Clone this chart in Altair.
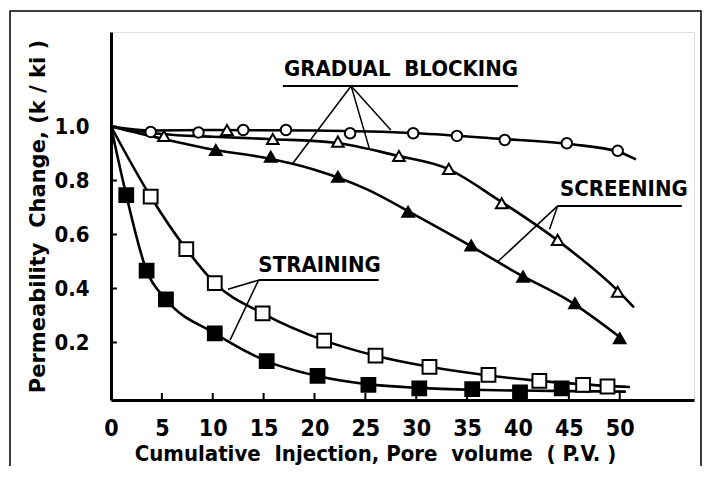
import altair as alt
import pandas as pd

# ---- marker data ----
circle_x = [3.9, 8.6, 13.0, 17.2, 23.5, 29.7, 34.0, 38.7, 44.8, 49.8]
circle_y = [0.98, 0.978, 0.987, 0.987, 0.975, 0.975, 0.965, 0.95, 0.938, 0.91]

otri_x = [5.2, 11.4, 15.9, 22.3, 28.3, 33.2, 38.4, 43.9, 49.8]
otri_y = [0.965, 0.987, 0.954, 0.944, 0.891, 0.843, 0.716, 0.58, 0.388]

ftri_x = [10.3, 15.7, 22.3, 29.2, 35.4, 40.5, 45.6, 50.0]
ftri_y = [0.913, 0.888, 0.814, 0.684, 0.559, 0.444, 0.345, 0.216]

osq_x = [3.9, 7.4, 10.2, 14.9, 20.95, 26.0, 31.3, 37.1, 42.1, 46.4, 48.8]
osq_y = [0.74, 0.546, 0.42, 0.308, 0.207, 0.151, 0.11, 0.08, 0.058, 0.043, 0.037]

fsq_x = [1.5, 3.5, 5.4, 10.2, 15.3, 20.3, 25.3, 30.3, 35.5, 40.2, 44.3]
fsq_y = [0.746, 0.466, 0.36, 0.234, 0.131, 0.076, 0.043, 0.03, 0.027, 0.015, 0.03]

# ---- fitted curves ----
ccurve_x = [0, 4, 10, 20, 30, 38, 45, 50, 51.6]
ccurve_y = [1.0, 0.985, 0.987, 0.985, 0.975, 0.955, 0.935, 0.905, 0.878]

otcurve_x = [0, 5, 10, 16, 22, 28, 33, 38, 44, 50, 51.4]
otcurve_y = [1.0, 0.972, 0.962, 0.953, 0.94, 0.893, 0.845, 0.73, 0.575, 0.385, 0.33]

ftcurve_x = [0, 5, 10, 15, 20, 25, 30, 35, 40, 45, 50]
ftcurve_y = [1.0, 0.955, 0.915, 0.885, 0.84, 0.77, 0.67, 0.565, 0.455, 0.355, 0.22]

oscurve_x = [0, 3.9, 7.4, 10.2, 14.9, 21, 26, 31.3, 37.1, 42, 46.4, 51]
oscurve_y = [1.0, 0.74, 0.546, 0.42, 0.308, 0.207, 0.151, 0.11, 0.078, 0.058, 0.045, 0.035]

fscurve_x = [0, 1.5, 3.5, 5.4, 10.2, 15.3, 20.3, 25.3, 30.3, 35.5, 40, 45, 50.6]
fscurve_y = [1.0, 0.746, 0.466, 0.36, 0.234, 0.131, 0.076, 0.045, 0.032, 0.025, 0.022, 0.02, 0.018]

# ---- annotations ----
labels = ["GRADUAL\u00a0\u00a0BLOCKING", "SCREENING", "STRAINING"]
label_x = [28.5, 50.4, 20.5]
label_y = [1.213, 0.769, 0.487]
uline_x1 = [16.9, 43.9, 14.5]
uline_x2 = [40.0, 56.1, 26.3]
uline_y = [1.15, 0.706, 0.431]
leader_x1 = [23.6, 23.6, 23.6, 43.9, 43.9, 14.5, 14.5]
leader_y1 = [1.15, 1.15, 1.15, 0.706, 0.706, 0.431, 0.431]
leader_x2 = [17.8, 25.4, 27.5, 38.0, 43.1, 11.5, 11.7]
leader_y2 = [0.86, 0.917, 0.987, 0.499, 0.619, 0.397, 0.209]

x_ticks = [0, 5, 10, 15, 20, 25, 30, 35, 40, 45, 50]
y_ticks = [0.2, 0.4, 0.6, 0.8, 1.0]

COND = "'DejaVu Sans Condensed', 'DejaVu Sans', sans-serif"
WIDE = "'DejaVu Sans', sans-serif"

XS = alt.Scale(domain=[0, 57.3], nice=False, zero=False)
YS = alt.Scale(domain=[-0.013, 1.35], nice=False, zero=False)

W, H = 583, 368

X_TITLE = "Cumulative\u00a0\u00a0Injection, Pore\u00a0\u00a0volume\u00a0\u00a0( P.V. )"
Y_TITLE = "Permeability\u00a0\u00a0Change, (k\u00a0/\u00a0ki\u00a0)"


def df(**kw):
    return pd.DataFrame(kw)


x_axis = alt.Axis(values=x_ticks, grid=False, ticks=False, domain=True, domainWidth=3,
                  domainColor="black", labelFont=COND, labelFontSize=23, labelFontWeight="bold",
                  labelColor="black", labelPadding=17, title=X_TITLE,
                  titleFont=COND, titleFontSize=22, titleFontWeight="bold", titleColor="black",
                  titleX=264, titleY=60, titleAlign="center", titleBaseline="alphabetic",
                  labelFlush=False)
y_axis = alt.Axis(values=y_ticks, format=".1f", grid=False, ticks=False, domain=True, domainWidth=3,
                  domainColor="black", labelFont=COND, labelFontSize=22, labelFontWeight="bold",
                  labelColor="black", labelPadding=22, title=Y_TITLE,
                  titleFont=WIDE, titleFontSize=21, titleFontWeight="bold", titleColor="black",
                  titleX=-73, titleY=184, titleAngle=270, titleAlign="center",
                  titleBaseline="middle", labelFlush=False)


def X(f="x"):
    return alt.X(f + ":Q", scale=XS, axis=x_axis, title=X_TITLE)


def Y(f="y"):
    return alt.Y(f + ":Q", scale=YS, axis=y_axis, title=Y_TITLE)


def curve(xs, ys):
    return alt.Chart(df(x=xs, y=ys)).mark_line(
        color="black", strokeWidth=2.6, interpolate="monotone").encode(x=X(), y=Y(), order="x:Q")


def pts(xs, ys, shape, filled, size):
    return alt.Chart(df(x=xs, y=ys)).mark_point(
        shape=shape, filled=True, fill="black" if filled else "white", stroke="black",
        strokeWidth=2, size=size, opacity=1).encode(x=X(), y=Y())


curves = [curve(ccurve_x, ccurve_y), curve(otcurve_x, otcurve_y), curve(ftcurve_x, ftcurve_y),
          curve(oscurve_x, oscurve_y), curve(fscurve_x, fscurve_y)]
markers = [pts(circle_x, circle_y, "circle", False, 110),
           pts(otri_x, otri_y, "triangle-up", False, 135),
           pts(ftri_x, ftri_y, "triangle-up", True, 135),
           pts(osq_x, osq_y, "square", False, 190),
           pts(fsq_x, fsq_y, "square", True, 190)]

underlines = alt.Chart(df(x=uline_x1, x2=uline_x2, y=uline_y)).mark_rule(
    color="black", strokeWidth=2).encode(x=X(), x2="x2:Q", y=Y())
leaders = alt.Chart(df(x=leader_x1, x2=leader_x2, y=leader_y1, y2=leader_y2)).mark_rule(
    color="black", strokeWidth=1.5).encode(x=X(), x2="x2:Q", y=Y(), y2="y2:Q")
texts = alt.Chart(df(x=label_x, y=label_y, t=labels)).mark_text(
    font=COND, fontSize=22, fontWeight="bold", color="black", align="center", baseline="middle"
).encode(x=X(), y=Y(), text="t:N")

xtick_marks = alt.Chart(df(x=x_ticks[1:])).mark_rule(color="black", strokeWidth=2).encode(
    x=X(), y=alt.value(H), y2=alt.value(H - 7))
ytick_marks = alt.Chart(df(y=y_ticks)).mark_rule(color="black", strokeWidth=2).encode(
    y=Y(), x=alt.value(0), x2=alt.value(6))

outer = alt.Chart(df(a=[0])).mark_rect(fillOpacity=0, stroke="black", strokeWidth=1.5).encode(
    x=alt.value(-101), x2=alt.value(590), y=alt.value(-21), y2=alt.value(480))

chart = alt.layer(
    outer, xtick_marks, ytick_marks, *curves, underlines, leaders, *markers, texts
).properties(
    width=W, height=H,
    autosize=alt.AutoSizeParams(type="none"),
    padding={"left": 103, "top": 24, "right": 8, "bottom": 66},
).configure_view(stroke="black", strokeWidth=2).configure(background="white")

chart.save("out.html", embed_options={"renderer": "svg", "actions": False})
